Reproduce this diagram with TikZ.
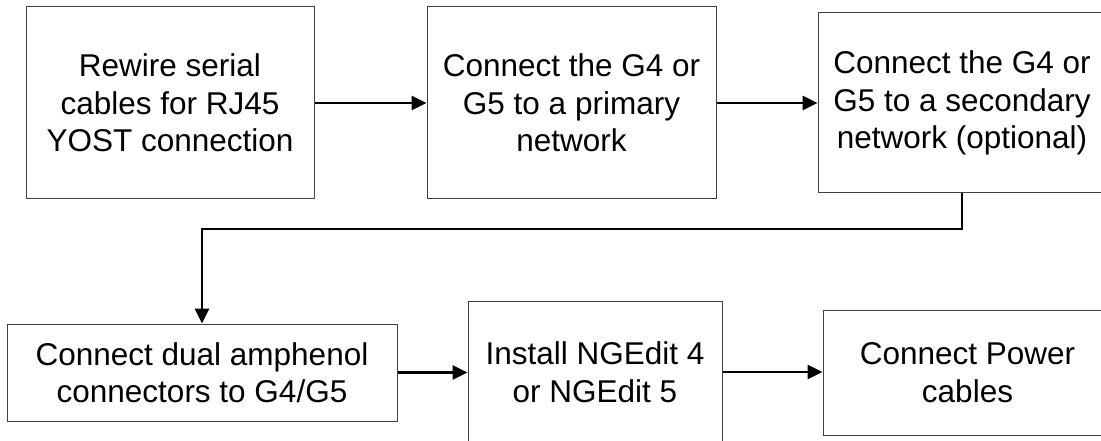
\documentclass[tikz,border=0pt]{standalone}
\usepackage{fontspec}
\setmainfont{Liberation Sans}
\usetikzlibrary{arrows.meta}
\begin{document}
\begin{tikzpicture}[x=1pt,y=-1pt,
  stepbox/.style={draw=black!75,line width=1pt,inner sep=0pt,align=center,
    font=\fontsize{31.5}{37.5}\selectfont,text=black},
  conn/.style={line width=2.6pt,-{Triangle[length=15pt,width=14pt]}}]
\useasboundingbox (0,0) rectangle (1101,441);
\clip (0,0) rectangle (1101,441);
\node[stepbox,minimum width=288pt,minimum height=192pt] (b1) at (170,103) {Rewire serial\\cables for RJ45\\YOST connection};
\node[stepbox,minimum width=289pt,minimum height=192pt] (b2) at (571.5,103) {Connect the G4 or\\G5 to a primary\\network};
\node[stepbox,minimum width=288pt,minimum height=180pt] (b3) at (962,103) {Connect the G4 or\\G5 to a secondary\\network (optional)};
\node[stepbox,minimum width=390pt,minimum height=97pt] (b4) at (202,372.5) {Connect dual amphenol\\connectors to G4/G5};
\node[stepbox,minimum width=254pt,minimum height=142pt] (b5) at (595,372) {Install NGEdit 4\\or NGEdit 5};
\node[stepbox,minimum width=289pt,minimum height=125pt] (b6) at (967.5,372.5) {Connect Power\\cables};
\draw[conn] (b1.east) -- (b2.west);
\draw[conn] (b2.east) -- (b3.west |- b2.east);
\coordinate (turn) at (202,229);
\draw[conn] (b3.south) |- (turn) -- (b4.north);
\draw[conn] (b4.east) -- (b5.west |- b4.east);
\draw[conn] (b5.east) -- (b6.west |- b5.east);
\end{tikzpicture}
\end{document}
